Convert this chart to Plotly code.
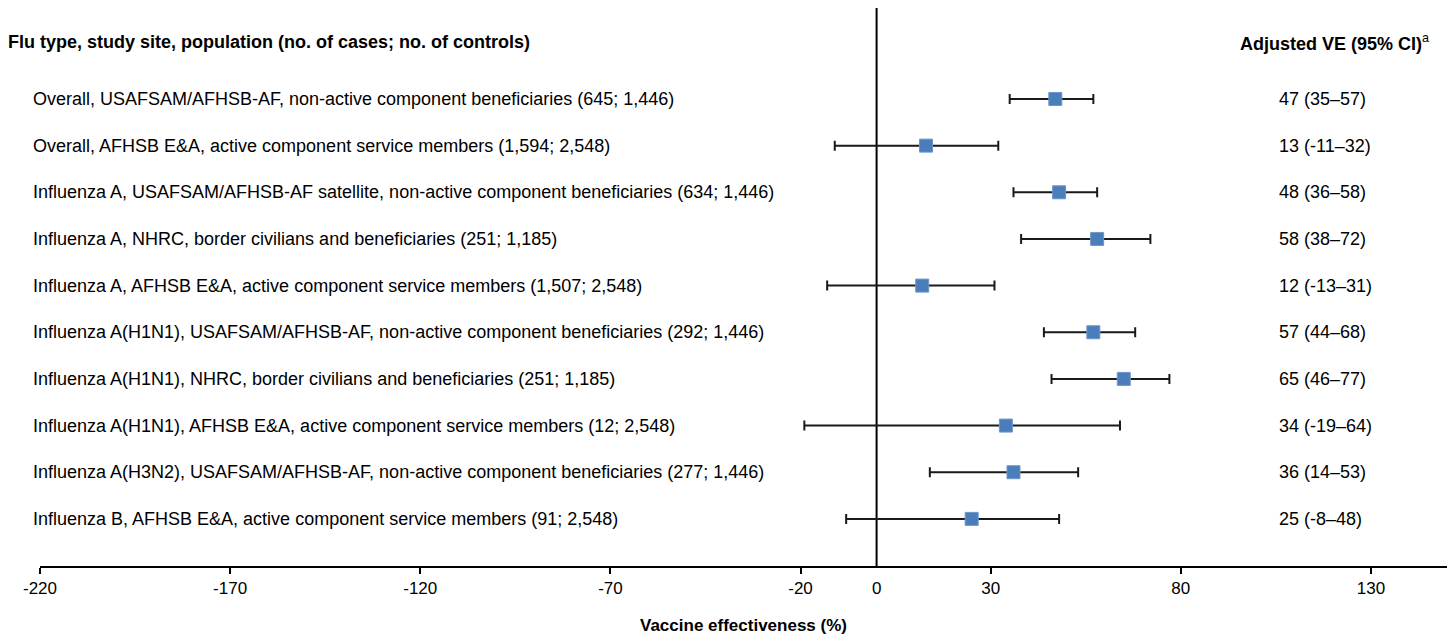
import plotly.graph_objects as go

labels = [
    "Overall, USAFSAM/AFHSB-AF, non-active component beneficiaries (645; 1,446)",
    "Overall, AFHSB E&A, active component service members (1,594; 2,548)",
    "Influenza A, USAFSAM/AFHSB-AF satellite, non-active component beneficiaries (634; 1,446)",
    "Influenza A, NHRC, border civilians and beneficiaries (251; 1,185)",
    "Influenza A, AFHSB E&A, active component service members (1,507; 2,548)",
    "Influenza A(H1N1), USAFSAM/AFHSB-AF, non-active component beneficiaries (292; 1,446)",
    "Influenza A(H1N1), NHRC, border civilians and beneficiaries (251; 1,185)",
    "Influenza A(H1N1), AFHSB E&A, active component service members (12; 2,548)",
    "Influenza A(H3N2), USAFSAM/AFHSB-AF, non-active component beneficiaries (277; 1,446)",
    "Influenza B, AFHSB E&A, active component service members (91; 2,548)",
]
ve = [47, 13, 48, 58, 12, 57, 65, 34, 36, 25]
ci_low = [35, -11, 36, 38, -13, 44, 46, -19, 14, -8]
ci_high = [57, 32, 58, 72, 31, 68, 77, 64, 53, 48]
ve_text = ["47 (35–57)", "13 (-11–32)", "48 (36–58)", "58 (38–72)", "12 (-13–31)",
           "57 (44–68)", "65 (46–77)", "34 (-19–64)", "36 (14–53)", "25 (-8–48)"]
tick_vals = [-220, -170, -120, -70, -20, 30, 80, 130]
tick_text = ["-220", "-170", "-120", "-70", "-20", "30", "80", "130"]

rows = list(range(1, len(labels) + 1))

W, H = 1452, 637
ml, mr, mt, mb = 40, 5, 8, 71
pw = W - ml - mr

def px_to_paper_x(px):
    return (px - ml) / pw

fig = go.Figure()
fig.add_trace(go.Scatter(
    x=ve, y=rows, mode="markers",
    marker=dict(symbol="square", size=13, color="#4A7EBB",
                line=dict(color="#6E96C8", width=1)),
    error_x=dict(type="data", symmetric=False,
                 array=[h - v for h, v in zip(ci_high, ve)],
                 arrayminus=[v - l for v, l in zip(ve, ci_low)],
                 color="#1a1a1a", thickness=2, width=5),
    showlegend=False, hoverinfo="skip", cliponaxis=False,
))

fig.add_shape(type="line", xref="x", yref="paper", x0=0, x1=0, y0=0, y1=1,
              line=dict(color="#000000", width=2), layer="below")

FONT = "Arial, Liberation Sans, sans-serif"
ann = []
label_font = dict(family=FONT, size=18, color="#000")
for r, lab, vt in zip(rows, labels, ve_text):
    ann.append(dict(xref="paper", yref="y", x=px_to_paper_x(31), y=r, text=lab,
                    xanchor="left", yanchor="middle", showarrow=False, font=label_font))
    ann.append(dict(xref="paper", yref="y", x=px_to_paper_x(1277), y=r, text=vt,
                    xanchor="left", yanchor="middle", showarrow=False, font=label_font))

head_font = dict(family=FONT, size=18, color="#000")
ann.append(dict(xref="paper", yref="y", x=px_to_paper_x(6), y=-0.22,
                text="<b>Flu type, study site, population (no. of cases; no. of controls)</b>",
                xanchor="left", yanchor="middle", showarrow=False, font=head_font))
ann.append(dict(xref="paper", yref="y", x=px_to_paper_x(1238), y=-0.22,
                text="<b>Adjusted VE (95% CI)</b><sup>a</sup>",
                xanchor="left", yanchor="middle", showarrow=False, font=head_font))
ann.append(dict(xref="x", yref="paper", x=0, y=0, yshift=-22, text="0",
                xanchor="center", yanchor="middle", showarrow=False,
                font=dict(family=FONT, size=17, color="#000")))

fig.update_layout(
    width=W, height=H,
    margin=dict(l=ml, r=mr, t=mt, b=mb),
    paper_bgcolor="white", plot_bgcolor="white",
    annotations=ann,
    xaxis=dict(range=[-220, 150], tickvals=tick_vals, ticktext=tick_text,
               ticks="outside", ticklen=6,
               tickwidth=2, tickcolor="#000", showgrid=False, zeroline=False,
               showline=True, linecolor="#000", linewidth=2,
               tickfont=dict(family=FONT, size=17, color="#000"),
               title=dict(text="<b>Vaccine effectiveness (%)</b>", standoff=22,
                          font=dict(family=FONT, size=17, color="#000"))),
    yaxis=dict(range=[11.01, -0.95], visible=False, showgrid=False, zeroline=False),
)

fig.write_html("out.html")
